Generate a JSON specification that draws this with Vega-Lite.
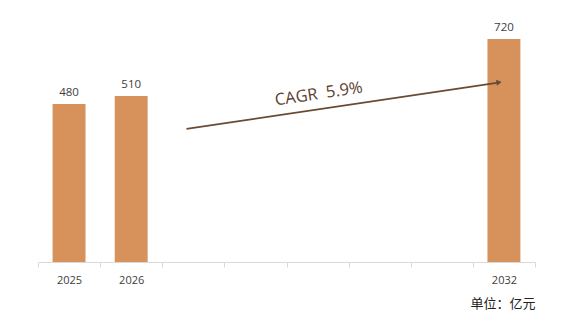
{
  "$schema": "https://vega.github.io/schema/vega-lite/v6.json",
  "width": 497,
  "height": 262,
  "autosize": {"type": "none"},
  "padding": {"left": 38, "top": 0, "right": 50, "bottom": 72},
  "background": "#ffffff",
  "config": {"view": {"stroke": null}},
  "datasets": {
    "bars": [
      {"year": "2025", "value": 480},
      {"year": "2026", "value": 510},
      {"year": "2032", "value": 720}
    ],
    "arrow": [
      {"pos": 2.39, "v": 388},
      {"pos": 7.44, "v": 560}
    ],
    "head": [
      {"pos": 7.42, "v": 560}
    ],
    "cagr": [
      {"pos": 4.52, "v": 517, "label": "CAGR \u00a05.9%"}
    ]
  },
  "layer": [
    {
      "data": {"name": "bars"},
      "layer": [
        {
          "mark": {"type": "bar", "color": "#D6925A", "width": {"band": 0.53}},
          "encoding": {
            "x": {
              "field": "year",
              "type": "ordinal",
              "scale": {"domain": ["2025","2026","2027","2028","2029","2030","2031","2032"], "paddingInner": 0, "paddingOuter": 0},
              "axis": {
                "title": "单位：亿元",
                "titleAnchor": "end",
                "titleAlign": "right",
                "titleFont": "Noto Sans CJK SC",
                "titleFontSize": 13,
                "titleFontWeight": "normal",
                "titleColor": "#222222",
                "titlePadding": 12,
                "labelAngle": 0,
                "labelExpr": "indexof(['2025','2026','2032'], datum.value) >= 0 ? datum.value : ''",
                "labelFont": "Open Sans",
                "labelFontSize": 11,
                "labelColor": "#404040",
                "labelPadding": 7,
                "tickBand": "extent",
                "tickSize": 5,
                "tickColor": "#D9D9D9",
                "domainColor": "#D9D9D9",
                "grid": false
              }
            },
            "y": {
              "field": "value",
              "type": "quantitative",
              "scale": {"domain": [-103, 864], "zero": false, "nice": false},
              "axis": null
            },
            "y2": {"datum": -103}
          }
        },
        {
          "mark": {"type": "text", "font": "Open Sans", "fontSize": 11.5, "color": "#404040", "baseline": "alphabetic", "dy": -8},
          "encoding": {
            "x": {"field": "year", "type": "ordinal"},
            "y": {"field": "value", "type": "quantitative"},
            "text": {"field": "value", "type": "quantitative"}
          }
        }
      ]
    },
    {
      "layer": [
        {
          "data": {"name": "arrow"},
          "mark": {"type": "line", "color": "#6A4A32", "strokeWidth": 1.8},
          "encoding": {
            "x": {"field": "pos", "type": "quantitative", "scale": {"domain": [0, 8], "nice": false, "zero": false}, "axis": null},
            "y": {"field": "v", "type": "quantitative"}
          }
        },
        {
          "data": {"name": "head"},
          "mark": {"type": "point", "shape": "triangle-right", "filled": true, "color": "#6A4A32", "size": 35, "angle": -8.6, "opacity": 1},
          "encoding": {
            "x": {"field": "pos", "type": "quantitative", "axis": null},
            "y": {"field": "v", "type": "quantitative"}
          }
        },
        {
          "data": {"name": "cagr"},
          "mark": {"type": "text", "font": "Open Sans", "fontSize": 16.5, "color": "#5C4030", "angle": -8.6, "align": "center", "baseline": "middle"},
          "encoding": {
            "x": {"field": "pos", "type": "quantitative", "axis": null},
            "y": {"field": "v", "type": "quantitative"},
            "text": {"field": "label"}
          }
        }
      ]
    }
  ],
  "resolve": {"scale": {"x": "independent"}}
}
